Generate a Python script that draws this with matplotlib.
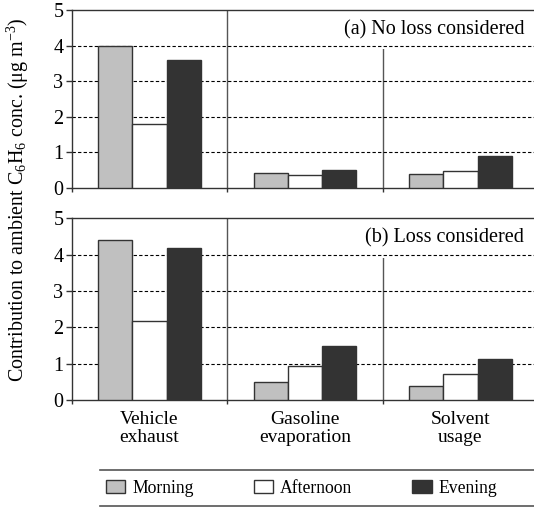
import matplotlib
matplotlib.use('Agg')
import matplotlib.pyplot as plt
import numpy as np

plt.rcParams['font.family'] = ['Liberation Serif', 'DejaVu Serif']
plt.rcParams['mathtext.fontset'] = 'custom'
plt.rcParams['mathtext.rm'] = 'Liberation Serif'
plt.rcParams['mathtext.it'] = 'Liberation Serif:italic'

# source categories and periods
sources = ['Vehicle\nexhaust', 'Gasoline\nevaporation', 'Solvent\nusage']
periods = ['Morning', 'Afternoon', 'Evening']
colors = ['#c0c0c0', '#ffffff', '#333333']

# (a) no loss considered
no_loss_morning = [4.00, 0.41, 0.39]
no_loss_afternoon = [1.79, 0.35, 0.48]
no_loss_evening = [3.61, 0.49, 0.88]

# (b) loss considered
loss_morning = [4.39, 0.49, 0.39]
loss_afternoon = [2.17, 0.94, 0.72]
loss_evening = [4.19, 1.49, 1.12]

panels = [
    ('(a) No loss considered', [no_loss_morning, no_loss_afternoon, no_loss_evening]),
    ('(b) Loss considered', [loss_morning, loss_afternoon, loss_evening]),
]

fig = plt.figure(figsize=(5.34, 5.09), dpi=100)
ax_top = fig.add_axes([0.1343, 0.6312, 0.8736, 0.3485])
ax_bot = fig.add_axes([0.1343, 0.2141, 0.8736, 0.357])

x = np.arange(len(sources))
width = 0.22
edge = '#333333'

for ax, (title, series) in zip([ax_top, ax_bot], panels):
    handles = []
    for i, vals in enumerate(series):
        b = ax.bar(x + (i - 1) * width, vals, width, color=colors[i],
                   edgecolor=edge, linewidth=1.0, zorder=3, label=periods[i])
        handles.append(b)
    ax.set_xlim(-0.5, 2.5)
    ax.set_ylim(0, 5)
    ax.set_yticks(range(6))
    # dashed reference lines and group separators
    for yv in range(1, 5):
        ax.axhline(yv, color='black', lw=0.8, ls=(0, (3, 2)), zorder=2.4)
    for xv in [0.5, 1.5]:
        ax.axvline(xv, color='#555555', lw=1.0, zorder=2)
    # white box hides the separator behind the panel label
    ax.text(2.41, 4.45, title, ha='right', va='center', fontsize=14.5, zorder=2.2,
            bbox=dict(facecolor='white', edgecolor='none', pad=7))
    for s in ['top', 'left', 'bottom']:
        ax.spines[s].set_color(edge)
        ax.spines[s].set_linewidth(1.0)
    ax.spines['right'].set_visible(False)
    ax.tick_params(axis='y', labelsize=14.5, length=4, width=1.0, color=edge, pad=2)
    ax.set_xticks(x)
    ax.set_xticks([-0.5, 0.5, 1.5, 2.5], minor=True)
    ax.tick_params(axis='x', which='major', length=0)
    ax.tick_params(axis='x', which='minor', length=3, width=1.0, color=edge)

ax_top.set_xticklabels([])
ax_bot.set_xticklabels(sources, fontsize=14, linespacing=1.1)
ax_bot.tick_params(axis='x', which='major', pad=8)

fig.text(0.034, 0.607, 'Contribution to ambient C$_6$H$_6$ conc. (μg m$^{-3}$)',
         rotation=90, ha='center', va='center', fontsize=14.4)

# legend with top and bottom rules
fig.add_artist(plt.Line2D([0.187, 1.0], [0.0766, 0.0766], color='#555555', lw=1.2))
fig.add_artist(plt.Line2D([0.187, 1.0], [0.006, 0.006], color='#555555', lw=1.2))
fig.legend(handles=handles, labels=periods, loc='center', bbox_to_anchor=(0.565, 0.041),
           ncol=3, frameon=False, fontsize=12.7, handlelength=1.1, handleheight=0.8,
           handletextpad=0.4, columnspacing=3.4)

fig.savefig('out.png', dpi=100)
